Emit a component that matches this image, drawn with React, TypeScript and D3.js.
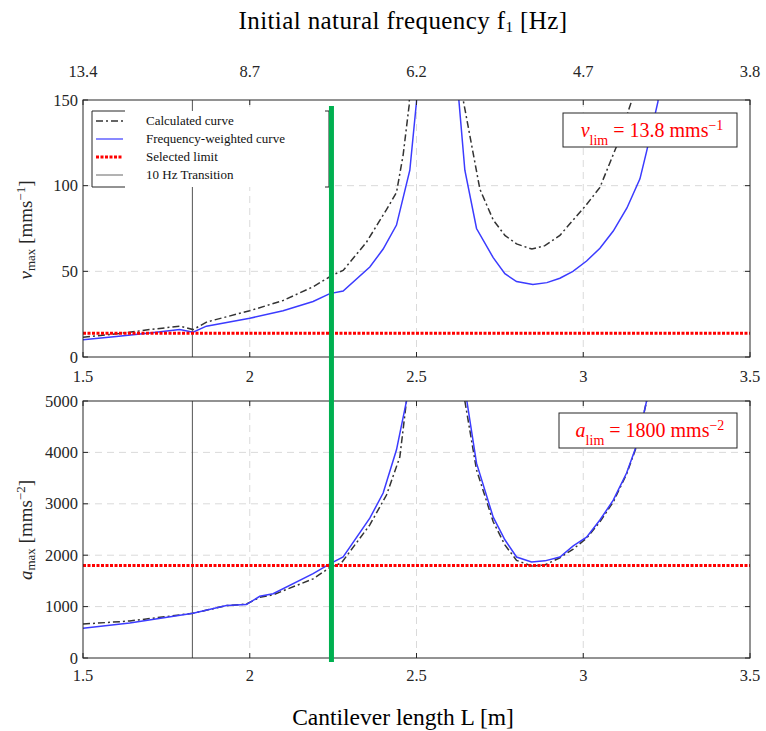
import React from "react";
import * as d3 from "d3";

// ---------- data ----------
const xTicks = [1.5, 2, 2.5, 3, 3.5];
const freqLabels = ["13.4", "8.7", "6.2", "4.7", "3.8"];
const vTicks = [0, 50, 100, 150];
const aTicks = [0, 1000, 2000, 3000, 4000, 5000];

// velocity, calculated curve (left branch, right branch)
const vCalcL: [number, number][] = [
  [1.5, 11.5], [1.6, 13.5], [1.7, 16], [1.79, 18], [1.83, 16], [1.872, 20.5],
  [2.0, 27], [2.1, 33], [2.19, 41], [2.25, 48], [2.28, 50.5], [2.35, 67],
  [2.41, 86], [2.44, 96], [2.46, 118], [2.478, 147], [2.52, 400],
];
const vCalcR: [number, number][] = [
  [2.6, 400], [2.64, 150], [2.69, 98], [2.73, 80], [2.765, 71], [2.80, 66],
  [2.846, 63], [2.885, 65], [2.93, 71], [2.97, 80], [3.01, 89], [3.05, 99],
  [3.10, 123], [3.146, 150], [3.2, 250],
];
// velocity, frequency-weighted curve
const vWeightL: [number, number][] = [
  [1.5, 10], [1.6, 12], [1.7, 14], [1.79, 16], [1.83, 14.5], [1.87, 18],
  [2.0, 22.6], [2.1, 27], [2.19, 32.4], [2.24, 37], [2.28, 38.5], [2.36, 52.5],
  [2.40, 63], [2.44, 77], [2.48, 109], [2.50, 149], [2.54, 400],
];
const vWeightR: [number, number][] = [
  [2.6, 400], [2.627, 150], [2.645, 109], [2.68, 75], [2.73, 58], [2.765, 48.6],
  [2.80, 44], [2.849, 42.3], [2.891, 43.4], [2.93, 46], [2.969, 50], [3.01, 56],
  [3.05, 63.5], [3.09, 73.5], [3.131, 87], [3.17, 104], [3.19, 120],
  [3.224, 149], [3.26, 250],
];
// acceleration, calculated curve
const aCalcL: [number, number][] = [
  [1.5, 660], [1.64, 720], [1.83, 870], [1.93, 1020], [1.99, 1050],
  [2.03, 1180], [2.07, 1230], [2.19, 1540], [2.24, 1760], [2.275, 1850],
  [2.36, 2590], [2.41, 3170], [2.45, 3910], [2.47, 5000], [2.53, 12000],
];
const aCalcR: [number, number][] = [
  [2.6, 12000], [2.645, 5000], [2.68, 3660], [2.73, 2650], [2.765, 2200],
  [2.80, 1900], [2.845, 1790], [2.885, 1810], [2.93, 1950], [2.97, 2120],
  [3.01, 2330], [3.05, 2650], [3.09, 3035], [3.13, 3580], [3.16, 4120],
  [3.19, 5000], [3.24, 8000],
];
// acceleration, frequency-weighted curve
const aWeightL: [number, number][] = [
  [1.5, 580], [1.64, 680], [1.83, 870], [1.93, 1020], [1.99, 1040],
  [2.03, 1200], [2.07, 1250], [2.19, 1640], [2.24, 1830], [2.28, 1965],
  [2.36, 2720], [2.40, 3210], [2.44, 4050], [2.47, 5000], [2.52, 12000],
];
const aWeightR: [number, number][] = [
  [2.6, 12000], [2.651, 5000], [2.68, 3790], [2.73, 2740], [2.765, 2300],
  [2.80, 1965], [2.845, 1870], [2.885, 1890], [2.93, 1965], [2.97, 2180],
  [3.01, 2350], [3.05, 2685], [3.09, 3070], [3.13, 3600], [3.16, 4140],
  [3.19, 5000], [3.24, 8000],
];
const vLim = 13.8;
const aLim = 1800;
const transitionL = 1.828;
const selectedL = 2.245;

// ---------- layout ----------
const W = 766, H = 731;
const x = d3.scaleLinear().domain([1.5, 3.5]).range([83, 750]);
const yV = d3.scaleLinear().domain([0, 150]).range([357, 100]);
const yA = d3.scaleLinear().domain([0, 5000]).range([658, 401]);

const serif = "'Liberation Serif', 'Times New Roman', serif";
const blue = "#3b3bff";
const dark = "#333333";
const red = "#ff0000";
const green = "#00b050";
const gridCol = "#dadada";
const tickFont = 16.5;

function Panel({ y, ticks, id, calc, weight, lim, labelDy }: any) {
  const [y0, y1] = y.range();
  const line = d3.line<[number, number]>().x((d) => x(d[0])).y((d) => y(d[1]));
  const left = x.range()[0], right = x.range()[1];
  return (
    <g>
      <defs>
        <clipPath id={id}>
          <rect x={left} y={y1} width={right - left} height={y0 - y1} />
        </clipPath>
      </defs>
      <rect x={left} y={y1} width={right - left} height={y0 - y1} fill="#fff" />
      {xTicks.slice(1, -1).map((t) => (
        <line key={"gx" + t} x1={x(t)} x2={x(t)} y1={y1} y2={y0} stroke={gridCol} strokeDasharray="7 5" />
      ))}
      {ticks.slice(1, -1).map((t: number) => (
        <line key={"gy" + t} x1={left} x2={right} y1={y(t)} y2={y(t)} stroke={gridCol} strokeDasharray="7 5" />
      ))}
      <line x1={x(transitionL)} x2={x(transitionL)} y1={y1} y2={y0} stroke="#555" strokeWidth={1} />
      <g clipPath={`url(#${id})`}>
        {calc.map((c: any, i: number) => (
          <path key={"c" + i} d={line(c) || ""} fill="none" stroke={dark} strokeWidth={1.5} strokeDasharray="7 3 2 3" />
        ))}
        {weight.map((c: any, i: number) => (
          <path key={"w" + i} d={line(c) || ""} fill="none" stroke={blue} strokeWidth={1.5} />
        ))}
        <line x1={left} x2={right} y1={y(lim)} y2={y(lim)} stroke={red} strokeWidth={3} strokeDasharray="3 1.5" />
      </g>
      <rect x={left} y={y1} width={right - left} height={y0 - y1} fill="none" stroke="#262626" strokeWidth={1} />
      {xTicks.map((t) => (
        <g key={"tx" + t}>
          <line x1={x(t)} x2={x(t)} y1={y0} y2={y0 - 5} stroke="#262626" />
          <line x1={x(t)} x2={x(t)} y1={y1} y2={y1 + 5} stroke="#262626" />
          <text x={x(t)} y={y0 + labelDy} textAnchor="middle" fontFamily={serif} fontSize={tickFont} fill="#262626">
            {t}
          </text>
        </g>
      ))}
      {ticks.map((t: number) => (
        <g key={"ty" + t}>
          <line x1={left} x2={left + 5} y1={y(t)} y2={y(t)} stroke="#262626" />
          <line x1={right} x2={right - 5} y1={y(t)} y2={y(t)} stroke="#262626" />
          <text x={left - 5} y={y(t) + 5.5} textAnchor="end" fontFamily={serif} fontSize={tickFont} fill="#262626">
            {String(t)}
          </text>
        </g>
      ))}
    </g>
  );
}

export default function App() {
  const legendRows = [
    { label: "Calculated curve", stroke: dark, dash: "7 3 2 3", w: 1.5 },
    { label: "Frequency-weighted curve", stroke: blue, dash: "", w: 1.2 },
    { label: "Selected limit", stroke: red, dash: "3 1.5", w: 3 },
    { label: "10 Hz Transition", stroke: "#666", dash: "", w: 1 },
  ];
  const lgX = 92, lgY = 111, lgR = 329, lgB = 187;
  return (
    <svg width={W} height={H} style={{ position: "absolute", left: 0, top: 0, background: "#fff" }}>
      <rect x={0} y={0} width={W} height={H} fill="#fff" />
      <text x={403} y={29} textAnchor="middle" fontFamily={serif} fontSize={25} letterSpacing={0.4} fill="#000">
        Initial natural frequency f<tspan baselineShift="-3" fontSize={15}>1</tspan> [Hz]
      </text>
      {freqLabels.map((f, i) => (
        <text key={f} x={x(xTicks[i])} y={77} textAnchor="middle" fontFamily={serif} fontSize={tickFont} fill="#262626">
          {f}
        </text>
      ))}
      <text x={403} y={725} textAnchor="middle" fontFamily={serif} fontSize={23.5} fill="#000">
        Cantilever length L [m]
      </text>

      <Panel y={yV} ticks={vTicks} id="clipV" calc={[vCalcL, vCalcR]} weight={[vWeightL, vWeightR]} lim={vLim} labelDy={25} />
      <Panel y={yA} ticks={aTicks} id="clipA" calc={[aCalcL, aCalcR]} weight={[aWeightL, aWeightR]} lim={aLim} labelDy={23} />

      <text transform="translate(32,230) rotate(-90)" textAnchor="middle" fontFamily={serif} fontSize={19} fill="#262626">
        <tspan fontStyle="italic">v</tspan>
        <tspan baselineShift="-3" fontSize={13}>max</tspan>
        <tspan> [mms</tspan>
        <tspan baselineShift="super" fontSize={13}>−1</tspan>
        <tspan>]</tspan>
      </text>
      <text transform="translate(32,530) rotate(-90)" textAnchor="middle" fontFamily={serif} fontSize={19} fill="#262626">
        <tspan fontStyle="italic">a</tspan>
        <tspan baselineShift="-3" fontSize={13}>max</tspan>
        <tspan> [mms</tspan>
        <tspan baselineShift="super" fontSize={13}>−2</tspan>
        <tspan>]</tspan>
      </text>

      <rect x={lgX} y={lgY} width={lgR - lgX} height={lgB - lgY} fill="#fff" />
      <line x1={lgX} x2={lgX} y1={lgY} y2={lgB} stroke="#262626" />
      <line x1={lgR} x2={lgR} y1={lgY} y2={lgB} stroke="#262626" />
      <line x1={lgX} x2={125} y1={lgY} y2={lgY} stroke="#262626" />
      <line x1={lgX} x2={125} y1={lgB} y2={lgB} stroke="#262626" />
      <line x1={lgR - 4} x2={lgR} y1={lgY} y2={lgY} stroke="#262626" />
      <line x1={lgR - 4} x2={lgR} y1={lgB} y2={lgB} stroke="#262626" />
      {legendRows.map((r, i) => {
        const yy = 121 + i * 18;
        return (
          <g key={r.label}>
            <line x1={96} x2={123} y1={yy} y2={yy} stroke={r.stroke} strokeWidth={r.w} strokeDasharray={r.dash || undefined} />
            <text x={146} y={yy + 4} fontFamily={serif} fontSize={13} fill="#111">
              {r.label}
            </text>
          </g>
        );
      })}

      <line x1={x(selectedL)} x2={x(selectedL)} y1={106} y2={662} stroke={green} strokeWidth={5} />

      <rect x={563} y={113} width={174} height={34} fill="#fff" stroke="#262626" />
      <text x={652} y={137} textAnchor="middle" fontFamily={serif} fontSize={20} fill={red}>
        <tspan fontStyle="italic">v</tspan>
        <tspan baselineShift="sub" fontSize={14}>lim</tspan>
        <tspan> = 13.8 mms</tspan>
        <tspan baselineShift="super" fontSize={14}>−1</tspan>
      </text>
      <rect x={559} y={413} width={178} height={35} fill="#fff" stroke="#262626" />
      <text x={650} y={437} textAnchor="middle" fontFamily={serif} fontSize={20} fill={red}>
        <tspan fontStyle="italic">a</tspan>
        <tspan baselineShift="sub" fontSize={14}>lim</tspan>
        <tspan> = 1800 mms</tspan>
        <tspan baselineShift="super" fontSize={14}>−2</tspan>
      </text>
    </svg>
  );
}
